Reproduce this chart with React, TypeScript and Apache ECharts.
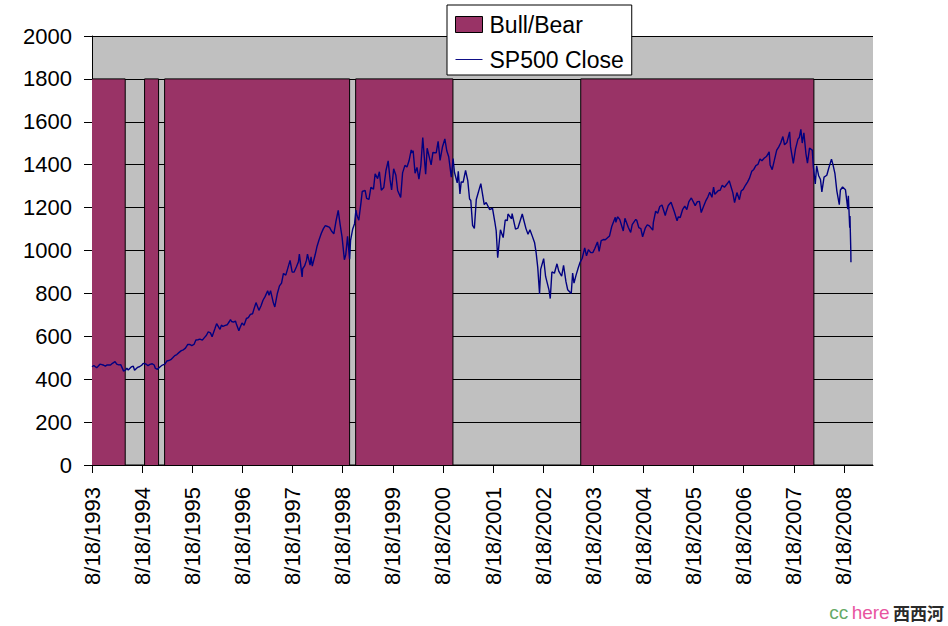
import React, { useEffect, useRef } from "react";
import * as echarts from "echarts";

// ---- Data ----
const baseDate = "1993-08-18";
const tickYears = [0, 1, 2, 3, 4, 5, 6, 7, 8, 9, 10, 11, 12, 13, 14, 15];
const axisEndYears = 15.58;

const bullStart = ["1993-08-18", "1994-09-05", "1995-01-29", "1998-11-21", "2003-05-19"];
const bullEnd = ["1994-04-17", "1994-12-16", "1998-10-08", "2000-10-30", "2008-01-12"];
const bullLevel = 1800;

const spxDates = [
  "1993-08-18","1993-08-31","1993-09-21","1993-09-30","1993-10-15","1993-10-29","1993-11-12","1993-11-23","1993-12-07","1993-12-31",
  "1994-01-14","1994-02-02","1994-02-14","1994-02-28","1994-03-15","1994-03-31","1994-04-04","1994-04-19","1994-04-29","1994-05-09","1994-05-31","1994-06-15","1994-06-24","1994-07-15","1994-07-29","1994-08-15","1994-08-26","1994-09-15","1994-09-30","1994-10-14","1994-10-31","1994-11-14","1994-11-23","1994-12-08","1994-12-30",
  "1995-01-13","1995-01-31","1995-02-15","1995-02-28","1995-03-15","1995-03-31","1995-04-13","1995-04-28","1995-05-15","1995-05-31","1995-06-15","1995-06-30","1995-07-17","1995-07-31","1995-08-15","1995-08-31","1995-09-14","1995-09-29","1995-10-13","1995-10-31","1995-11-15","1995-11-30","1995-12-13","1995-12-29",
  "1996-01-10","1996-01-31","1996-02-12","1996-02-29","1996-03-08","1996-03-18","1996-03-29","1996-04-15","1996-04-30","1996-05-15","1996-05-23","1996-05-31","1996-06-14","1996-06-28","1996-07-05","1996-07-23","1996-07-31","1996-08-15","1996-08-30","1996-09-16","1996-09-30","1996-10-15","1996-10-31","1996-11-15","1996-11-25","1996-12-10","1996-12-16","1996-12-31",
  "1997-01-15","1997-01-31","1997-02-18","1997-02-28","1997-03-11","1997-03-31","1997-04-11","1997-04-30","1997-05-15","1997-05-30","1997-06-13","1997-06-30","1997-07-15","1997-07-31","1997-08-15","1997-08-29","1997-09-15","1997-09-30","1997-10-07","1997-10-27","1997-10-31","1997-11-14","1997-11-28","1997-12-05","1997-12-24","1997-12-31",
  "1998-01-09","1998-01-30","1998-02-13","1998-02-27","1998-03-16","1998-03-31","1998-04-14","1998-04-30","1998-05-15","1998-05-29","1998-06-15","1998-06-30","1998-07-17","1998-07-31","1998-08-14","1998-08-31","1998-09-10","1998-09-23","1998-09-30","1998-10-08","1998-10-15","1998-10-30","1998-11-13","1998-11-23","1998-11-30","1998-12-14","1998-12-31",
  "1999-01-08","1999-01-29","1999-02-09","1999-02-26","1999-03-12","1999-03-31","1999-04-12","1999-04-30","1999-05-13","1999-05-27","1999-06-14","1999-06-30","1999-07-16","1999-07-30","1999-08-10","1999-08-25","1999-09-10","1999-09-23","1999-10-15","1999-10-29","1999-11-15","1999-11-30","1999-12-15","1999-12-31",
  "2000-01-03","2000-01-14","2000-01-28","2000-02-11","2000-02-25","2000-03-10","2000-03-24","2000-04-14","2000-04-25","2000-05-24","2000-06-06","2000-06-30","2000-07-14","2000-07-28","2000-08-15","2000-09-01","2000-09-15","2000-09-29","2000-10-18","2000-10-31","2000-11-10","2000-11-30","2000-12-08","2000-12-20","2000-12-29",
  "2001-01-12","2001-01-30","2001-02-15","2001-02-28","2001-03-09","2001-03-22","2001-04-04","2001-04-18","2001-05-21","2001-06-15","2001-06-29","2001-07-24","2001-08-14","2001-08-31","2001-09-10","2001-09-21","2001-10-11","2001-10-31","2001-11-15","2001-11-30","2001-12-05","2001-12-31",
  "2002-01-04","2002-01-29","2002-02-15","2002-03-19","2002-03-28","2002-04-15","2002-04-30","2002-05-14","2002-05-31","2002-06-17","2002-06-28","2002-07-10","2002-07-23","2002-07-31","2002-08-22","2002-09-05","2002-09-30","2002-10-09","2002-10-21","2002-11-08","2002-11-27","2002-12-10","2002-12-31",
  "2003-01-14","2003-01-31","2003-02-13","2003-03-11","2003-03-21","2003-03-31","2003-04-15","2003-04-30","2003-05-15","2003-05-30","2003-06-17","2003-06-30","2003-07-14","2003-07-31","2003-08-15","2003-08-29","2003-09-18","2003-09-30","2003-10-15","2003-10-31","2003-11-14","2003-11-28","2003-12-15","2003-12-31",
  "2004-01-26","2004-01-30","2004-02-11","2004-02-27","2004-03-24","2004-03-31","2004-04-05","2004-04-30","2004-05-17","2004-05-28","2004-06-23","2004-06-30","2004-07-15","2004-07-30","2004-08-12","2004-08-31","2004-09-15","2004-09-30","2004-10-25","2004-10-29","2004-11-15","2004-11-30","2004-12-15","2004-12-31",
  "2005-01-24","2005-01-31","2005-02-15","2005-03-07","2005-03-31","2005-04-20","2005-04-29","2005-05-13","2005-05-31","2005-06-15","2005-06-30","2005-07-15","2005-08-02","2005-08-30","2005-09-15","2005-09-30","2005-10-13","2005-10-31","2005-11-15","2005-11-30","2005-12-14","2005-12-30",
  "2006-01-11","2006-01-20","2006-02-15","2006-02-28","2006-03-15","2006-03-31","2006-04-20","2006-05-05","2006-05-31","2006-06-13","2006-06-30","2006-07-18","2006-07-31","2006-08-15","2006-08-31","2006-09-15","2006-09-29","2006-10-16","2006-10-31","2006-11-15","2006-11-30","2006-12-15","2006-12-29",
  "2007-01-16","2007-01-31","2007-02-20","2007-02-27","2007-03-14","2007-03-30","2007-04-16","2007-04-30","2007-05-15","2007-05-31","2007-06-12","2007-06-29","2007-07-19","2007-07-26","2007-08-15","2007-08-31","2007-09-18","2007-09-28","2007-10-09","2007-10-19","2007-10-31","2007-11-15","2007-11-26","2007-12-11","2007-12-31",
  "2008-01-08","2008-01-22","2008-02-01","2008-02-15","2008-02-29","2008-03-10","2008-03-26","2008-04-15","2008-04-30","2008-05-19","2008-05-30","2008-06-13","2008-06-27","2008-07-15","2008-07-23","2008-08-08","2008-08-29","2008-09-15","2008-09-19","2008-09-29","2008-10-01","2008-10-03","2008-10-07","2008-10-08"
];

const spxClose = [
  458,464,453,459,470,468,465,461,467,466,
  474,482,470,467,468,446,438,442,451,443,457,461,442,455,458,465,474,471,463,469,472,466,450,446,459,
  466,470,485,487,491,501,510,515,525,533,537,545,562,562,557,562,583,584,587,582,594,605,621,616,
  598,636,659,640,633,652,646,651,654,669,678,669,666,671,657,626,640,662,652,683,687,702,705,737,757,732,721,741,
  768,786,812,791,813,757,737,801,835,848,893,885,918,954,900,899,923,947,983,877,915,928,955,983,932,970,
  927,980,1020,1049,1080,1102,1116,1112,1108,1091,1078,1134,1187,1121,1063,957,980,1066,1017,959,1047,1099,1125,1188,1164,1141,1229,
  1275,1280,1243,1238,1294,1286,1358,1335,1367,1281,1294,1373,1418,1329,1282,1381,1351,1280,1247,1362,1397,1389,1418,1469,
  1455,1465,1360,1387,1333,1395,1527,1356,1477,1399,1457,1455,1509,1420,1484,1520,1465,1437,1342,1429,1365,1315,1369,1264,1320,
  1318,1373,1326,1240,1233,1117,1103,1238,1312,1214,1224,1191,1197,1134,1092,966,1097,1060,1142,1139,1170,1148,
  1172,1100,1104,1170,1147,1102,1076,1097,1067,1036,990,920,797,912,962,879,815,776,900,894,938,904,880,
  931,856,817,800,895,848,885,917,946,964,1012,975,1004,990,990,1008,1040,996,1046,1051,1050,1058,1068,1112,
  1155,1131,1157,1145,1091,1126,1150,1107,1084,1121,1145,1141,1107,1102,1064,1104,1120,1115,1095,1130,1183,1174,1205,1212,
  1163,1181,1210,1225,1181,1138,1157,1154,1192,1207,1191,1228,1245,1209,1228,1229,1177,1207,1231,1249,1272,1248,
  1295,1262,1280,1281,1304,1295,1311,1325,1270,1223,1270,1237,1277,1285,1304,1319,1336,1369,1378,1396,1401,1427,1418,
  1431,1438,1460,1399,1377,1421,1468,1482,1501,1531,1493,1503,1553,1483,1406,1474,1519,1527,1565,1501,1549,1451,1407,1477,1468,
  1390,1310,1395,1350,1331,1273,1342,1351,1386,1426,1400,1360,1278,1214,1282,1296,1283,1193,1255,1106,1161,1099,996,945
];

const yMin = 0;
const yMax = 2000;
const yStep = 200;

// ---- helpers ----
const DAY = 86400000;
const toUTC = (s: string) => {
  const [y, m, d] = s.split("-").map(Number);
  return Date.UTC(y, m - 1, d);
};
const base = toUTC(baseDate);
const toYears = (s: string) => (toUTC(s) - base) / (365.25 * DAY);

const FONT = 'Arial, "Liberation Sans", sans-serif';

export default function App() {
  const ref = useRef<HTMLDivElement>(null);

  useEffect(() => {
    if (!ref.current) return;
    const chart = echarts.init(ref.current, undefined, { renderer: "svg" });

    const stepData: [number, number][] = [];
    bullStart.forEach((s, i) => {
      stepData.push([toYears(s), bullLevel]);
      stepData.push([toYears(bullEnd[i]), 0]);
    });
    stepData.push([axisEndYears, 0]);

    const lineData = spxDates.map((d, i) => [toYears(d), spxClose[i]]);

    chart.setOption({
      animation: false,
      backgroundColor: "#ffffff",
      textStyle: { fontFamily: FONT },
      grid: {
        left: 92,
        right: 75,
        top: 36,
        bottom: 161,
        show: true,
        backgroundColor: "#c0c0c0",
        borderWidth: 0,
      },
      legend: {
        left: 447,
        top: 5,
        orient: "vertical",
        backgroundColor: "#ffffff",
        borderColor: "#000000",
        borderWidth: 1,
        padding: [8, 8, 4, 8],
        itemGap: 12,
        itemWidth: 27,
        itemHeight: 16,
        textStyle: {
          fontFamily: FONT,
          fontSize: 23,
          lineHeight: 23,
          color: "#000000",
          padding: [0, 0, 0, 2],
        },
        data: [
          {
            name: "Bull/Bear",
            icon: "rect",
            itemStyle: { color: "#993366", borderColor: "#000000", borderWidth: 1 },
          },
          {
            name: "SP500 Close",
            icon: "path://M0,0L40,0L40,1.4L0,1.4Z",
            itemStyle: { color: "#000080", borderWidth: 0 },
          },
        ],
      },
      xAxis: {
        type: "value",
        min: 0,
        max: axisEndYears,
        interval: 1,
        axisLine: { show: true, onZero: false, lineStyle: { color: "#000000", width: 1 } },
        axisTick: {
          show: true,
          inside: false,
          length: 8,
          customValues: tickYears,
          lineStyle: { color: "#000000" },
        },
        axisLabel: {
          customValues: tickYears,
          rotate: 90,
          margin: 22,
          fontFamily: FONT,
          fontSize: 22,
          color: "#000000",
          formatter: (v: number) => `8/18/${1993 + Math.round(v)}`,
        },
        splitLine: { show: false },
      },
      yAxis: {
        type: "value",
        min: yMin,
        max: yMax,
        interval: yStep,
        axisLine: { show: true, lineStyle: { color: "#000000", width: 1 } },
        axisTick: { show: true, inside: false, length: 8, lineStyle: { color: "#000000" } },
        axisLabel: {
          margin: 20,
          fontFamily: FONT,
          fontSize: 22,
          color: "#000000",
          formatter: (v: number) => String(v),
        },
        splitLine: { show: true, lineStyle: { color: "#000000", width: 1 } },
      },
      series: [
        {
          name: "Bull/Bear",
          type: "line",
          step: "end",
          data: stepData,
          symbol: "none",
          showSymbol: false,
          color: "#993366",
          lineStyle: { color: "#000000", width: 1 },
          areaStyle: { color: "#993366", opacity: 1 },
          z: 2,
        },
        {
          name: "SP500 Close",
          type: "line",
          data: lineData,
          symbol: "none",
          showSymbol: false,
          color: "#000080",
          lineStyle: { color: "#000080", width: 1.4 },
          z: 3,
        },
      ],
      graphic: [
        {
          type: "text",
          right: 4,
          top: 603,
          style: {
            text: "{a|cc} {b|here} {c|西西河}",
            rich: {
              a: { fill: "#66aa66", fontSize: 19, fontFamily: FONT },
              b: { fill: "#e8559f", fontSize: 19, fontFamily: FONT },
              c: {
                fill: "#2a2a2a",
                fontSize: 17,
                fontWeight: "bold",
                fontFamily: '"Noto Sans CJK SC", sans-serif',
              },
            },
          },
        },
      ],
    });

    return () => {
      chart.dispose();
    };
  }, []);

  return (
    <div
      ref={ref}
      style={{
        position: "fixed",
        left: 0,
        top: 0,
        width: 948,
        height: 626,
        background: "#ffffff",
      }}
    />
  );
}
